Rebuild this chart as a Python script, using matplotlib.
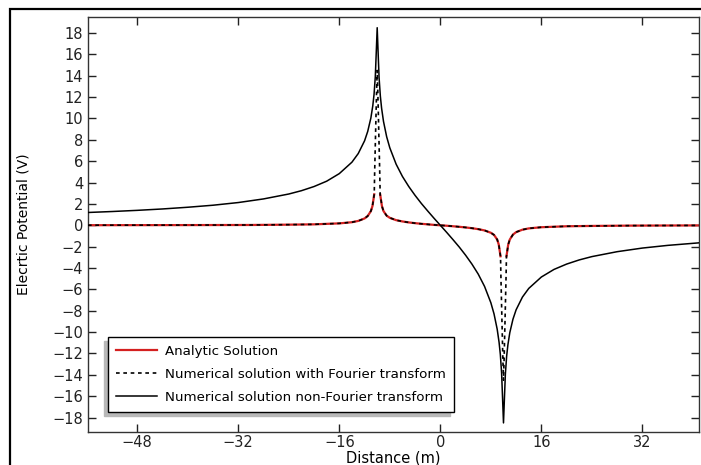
import numpy as np
import matplotlib
matplotlib.use("Agg")
import matplotlib.pyplot as plt
from matplotlib.patches import Rectangle

# Solucion numerica sin transformada de Fourier (linea negra)
x_nofourier = [-55.8, -52, -48, -44, -40, -36, -32, -28, -24, -22, -20, -18, -16, -14,
               -13, -12, -11.5, -11, -10.7, -10.5, -10.3, -10.15, -10, -9.85, -9.7,
               -9.5, -9.3, -9, -8.5, -8, -7, -6, -5, -4, -3, -2, -1, 0,
               1, 2, 3, 4, 5, 6, 7, 8, 8.5, 9, 9.3, 9.5, 9.7, 9.85, 10, 10.15,
               10.3, 10.5, 10.7, 11, 11.5, 12, 13, 14, 16, 18, 20, 22, 24, 28,
               32, 36, 41]
v_nofourier = [1.20, 1.29, 1.40, 1.53, 1.69, 1.88, 2.13, 2.47, 2.93, 3.24, 3.63, 4.13,
               4.84, 5.91, 6.72, 7.91, 8.79, 10.05, 11.18, 12.25, 13.91, 16.17, 18.5,
               16.12, 13.81, 12.09, 10.95, 9.72, 8.29, 7.25, 5.72, 4.57, 3.63, 2.80,
               2.04, 1.34, 0.66, 0.0,
               -0.66, -1.34, -2.04, -2.80, -3.63, -4.57, -5.72, -7.25, -8.29, -9.72,
               -10.95, -12.09, -13.81, -16.12, -18.5, -16.17, -13.91, -12.25, -11.18,
               -10.05, -8.79, -7.91, -6.72, -5.91, -4.84, -4.13, -3.63, -3.24, -2.93,
               -2.47, -2.13, -1.88, -1.64]

# Solucion analitica (linea roja)
x_analitica = [-55.8, -40, -30, -24, -20, -16, -14, -13, -12, -11.5, -11, -10.75,
               -10.47, None, -9.53, -9.25, -9, -8.5, -8, -7, -6, -5, -4, -3, -2, -1, 0,
               1, 2, 3, 4, 5, 6, 7, 8, 8.5, 9, 9.25, 9.53, None, 10.47, 10.75, 11,
               11.5, 12, 13, 14, 16, 20, 24, 30, 41]
v_analitica = [0.01, 0.02, 0.03, 0.06, 0.09, 0.18, 0.29, 0.41, 0.64, 0.87, 1.33, 1.8,
               2.9, None, 2.9, 1.8, 1.33, 0.9, 0.7, 0.48, 0.36, 0.27, 0.2, 0.14, 0.09,
               0.04, 0.0, -0.04, -0.09, -0.14, -0.2, -0.27, -0.36, -0.48, -0.7, -0.9,
               -1.33, -1.8, -2.9, None, -2.9, -1.8, -1.33, -0.87, -0.64, -0.41, -0.29,
               -0.18, -0.09, -0.06, -0.03, -0.01]

# Solucion numerica con transformada de Fourier (linea discontinua)
x_fourier = [-55.8, -40, -30, -24, -20, -16, -14, -13, -12, -11.5, -11, -10.75,
             -10.47, -10.4, -10.3, -10.2, -10.1, -10, -9.9, -9.8, -9.7, -9.6, -9.53,
             -9.25, -9, -8.5, -8, -7, -6, -5, -4, -3, -2, -1, 0,
             1, 2, 3, 4, 5, 6, 7, 8, 8.5, 9, 9.25, 9.53, 9.6, 9.7, 9.8, 9.9, 10,
             10.1, 10.2, 10.3, 10.4, 10.47, 10.75, 11, 11.5, 12, 13, 14, 16, 20, 24,
             30, 41]
v_fourier = [0.01, 0.02, 0.03, 0.06, 0.09, 0.18, 0.29, 0.41, 0.64, 0.87, 1.33, 1.8,
             2.9, 5.0, 7.5, 10.0, 12.5, 14.5, 12.5, 10.0, 7.5, 5.0, 2.9,
             1.8, 1.33, 0.9, 0.7, 0.48, 0.36, 0.27, 0.2, 0.14, 0.09, 0.04, 0.0,
             -0.04, -0.09, -0.14, -0.2, -0.27, -0.36, -0.48, -0.7, -0.9, -1.33, -1.8,
             -2.9, -5.0, -7.5, -10.0, -12.5, -14.5, -12.5, -10.0, -7.5, -5.0, -2.9,
             -1.8, -1.33, -0.87, -0.64, -0.41, -0.29, -0.18, -0.09, -0.06, -0.03, -0.01]

x_ticks = [-48, -32, -16, 0, 16, 32]
y_ticks = list(range(-18, 19, 2))

etiquetas = ["Analytic Solution",
             "Numerical solution with Fourier transform",
             "Numerical solution non-Fourier transform"]

plt.rcParams['font.family'] = ['DejaVu Sans']

fig = plt.figure(figsize=(7.01, 4.65), dpi=100)
ax = fig.add_axes([0.1255, 0.071, 0.872, 0.8924])

xa = np.array(x_analitica, dtype=float)
va = np.array(v_analitica, dtype=float)
ax.plot(xa, va, color='#d42020', lw=1.6, label=etiquetas[0], zorder=2)
ax.plot(x_fourier, v_fourier, color='black', lw=1.2, linestyle=(0, (2.2, 2.2)),
        label=etiquetas[1], zorder=3)
ax.plot(x_nofourier, v_nofourier, color='black', lw=1.1, label=etiquetas[2], zorder=4)

ax.set_xlim(-55.8, 41)
ax.set_ylim(-19.35, 19.5)
ax.set_xticks(x_ticks)
ax.set_yticks(y_ticks)
ax.tick_params(direction='in', length=6, width=1, labelsize=10.5, colors='#222222',
               top=True, right=True, labelright=False, labeltop=False)
ax.tick_params(axis='x', pad=2)
for s in ax.spines.values():
    s.set_linewidth(1.0)
    s.set_color('#333333')

ax.set_xlabel("Distance (m)", fontsize=10.5, labelpad=0.5)
ax.set_ylabel("Elecrtic Potential (V)", fontsize=10, labelpad=16)

leg = ax.legend(loc='lower left', bbox_to_anchor=(0.033, 0.048), borderaxespad=0,
                fontsize=9.6, fancybox=False, framealpha=1, edgecolor='black',
                handlelength=3.1, handletextpad=0.6, labelspacing=0.75,
                borderpad=0.6,
                shadow={'ox': -3, 'oy': -3, 'color': '0.72', 'alpha': 1})
leg.get_frame().set_linewidth(1.0)

# marco exterior de la figura
fig.patches.append(Rectangle((10 / 701, -0.1), 1.2, 1.1 - 9 / 465, transform=fig.transFigure,
                             fill=False, edgecolor='black', lw=1.6, zorder=0))

fig.savefig("out.png", dpi=100)
